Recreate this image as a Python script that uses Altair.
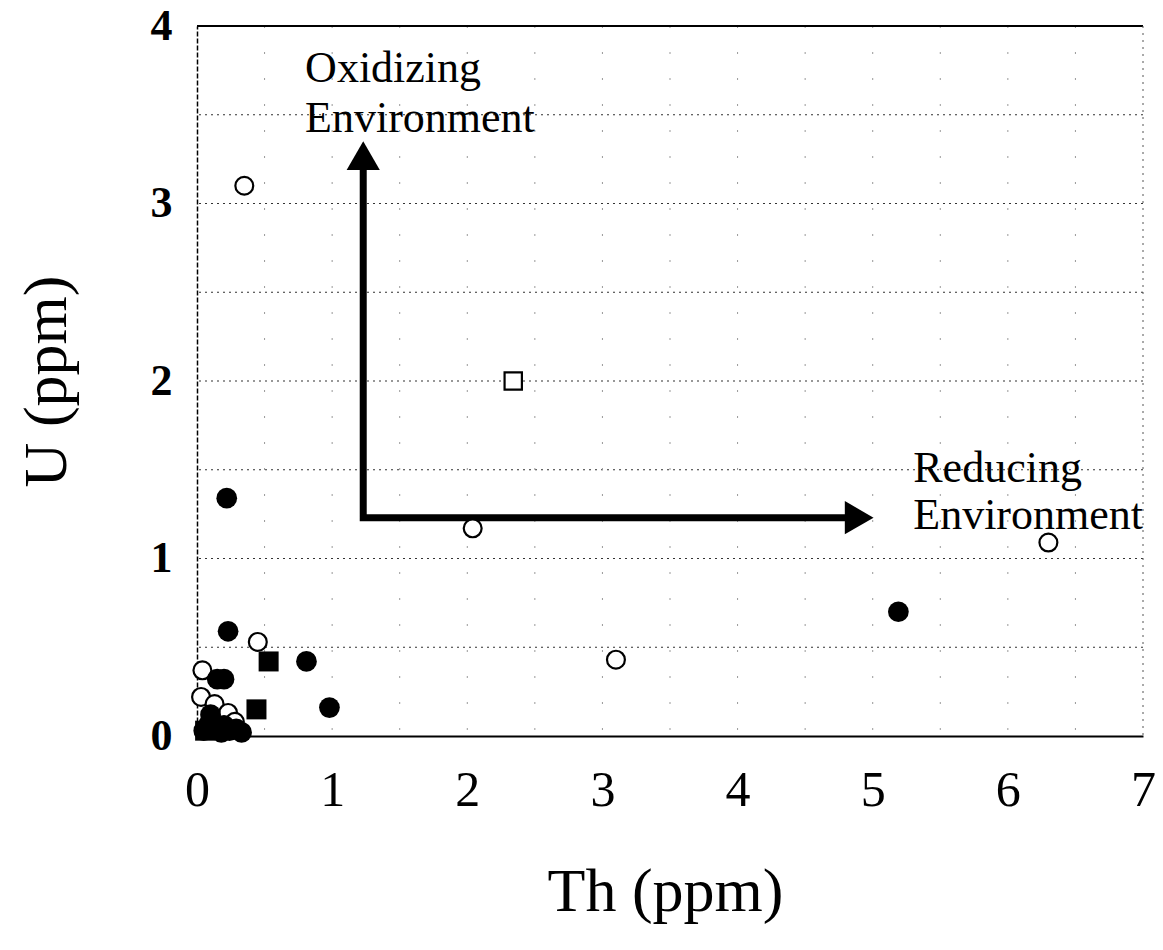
import altair as alt
import pandas as pd

FONT = "Liberation Serif"

# Sample compositions, Th vs U (ppm)
filled_circle_th = [0.22, 0.23, 0.15, 0.20, 0.81, 0.98, 5.19, 0.05, 0.09, 0.13, 0.18, 0.24, 0.29, 0.10, 0.20, 0.33]
filled_circle_u = [1.34, 0.59, 0.32, 0.32, 0.42, 0.16, 0.70, 0.03, 0.07, 0.04, 0.02, 0.03, 0.04, 0.12, 0.06, 0.02]

filled_square_th = [0.53, 0.44, 0.06]
filled_square_u = [0.42, 0.15, 0.03]

open_circle_th = [0.35, 2.04, 6.30, 3.10, 0.45, 0.04, 0.03, 0.13, 0.23, 0.28]
open_circle_u = [3.10, 1.17, 1.09, 0.43, 0.53, 0.37, 0.22, 0.18, 0.13, 0.08]

open_square_th = [2.34]
open_square_u = [2.00]

# Axis ticks and grid positions
x_ticks = [0, 1, 2, 3, 4, 5, 6, 7]
y_ticks = [0, 1, 2, 3, 4]
h_grid = [0.5, 1.0, 1.5, 2.0, 2.5, 3.0, 3.5]
v_grid = [0.5, 1.0, 1.5, 2.0, 2.5, 3.0, 3.5, 4.0, 4.5, 5.0, 5.5, 6.0, 6.5]

# Direction arrows (corner where the two trends start)
arrow_th = [1.23, 1.23, 4.90]
arrow_u = [3.27, 1.23, 1.23]
arrow_order = [0, 1, 2]

labels_text = ["Oxidizing\nEnvironment", "Reducing\nEnvironment"]
labels_th = [0.80, 5.30]
labels_u = [3.685, 1.43]

x_scale = alt.Scale(domain=[0, 7], nice=False, zero=False)
y_scale = alt.Scale(domain=[0, 4], nice=False, zero=False)

x_axis = alt.Axis(
    values=x_ticks, title="Th (ppm)", grid=False, ticks=False, tickSize=0,
    labelFont=FONT, labelFontSize=50, labelColor="black", labelPadding=29,
    labelFlush=False, labelOverlap=False,
    domainColor="black", domainWidth=2,
    titleFont=FONT, titleFontSize=62, titleFontWeight="normal", titleColor="black",
    titleY=174, titleX=468, titleBaseline="alphabetic",
)
y_axis = alt.Axis(
    values=y_ticks, title="U (ppm)", grid=False, ticks=False, tickSize=0,
    labelFont=FONT, labelFontSize=44, labelFontWeight="bold", labelColor="black",
    labelPadding=25, labelFlush=False, labelOverlap=False,
    domainColor="black", domainWidth=1.5, domainDash=[5, 2],
    titleFont=FONT, titleFontSize=62, titleFontWeight="normal", titleColor="black",
    titleX=-119, titleY=355, titleAngle=270, titleBaseline="bottom", titleAlign="center",
)

X = alt.X("Th:Q", scale=x_scale, axis=x_axis)
Y = alt.Y("U:Q", scale=y_scale, axis=y_axis)


def pts(th, u):
    return pd.DataFrame({"Th": th, "U": u})


hgrid = alt.Chart(pd.DataFrame({"U": h_grid})).mark_rule(
    color="#333", strokeWidth=1.2, strokeDash=[2, 4]
).encode(y=Y)

vgrid = alt.Chart(pd.DataFrame({"Th": v_grid})).mark_rule(
    color="#999", strokeWidth=1, strokeDash=[2, 24]
).encode(x=X)

top_border = alt.Chart(pd.DataFrame({"U": [4]})).mark_rule(
    color="black", strokeWidth=2
).encode(y=Y)

right_border = alt.Chart(pd.DataFrame({"Th": [7]})).mark_rule(
    color="#555", strokeWidth=1, strokeDash=[2, 5]
).encode(x=X)


def enc(chart):
    return chart.encode(x=X, y=Y)


open_circles = enc(alt.Chart(pts(open_circle_th, open_circle_u)).mark_point(
    shape="circle", size=320, filled=False, fill="white", fillOpacity=1,
    stroke="black", strokeWidth=2.2, opacity=1
))
open_squares = enc(alt.Chart(pts(open_square_th, open_square_u)).mark_point(
    shape="square", size=300, filled=False, fill="white", fillOpacity=1,
    stroke="black", strokeWidth=2.2, opacity=1
))
filled_circles = enc(alt.Chart(pts(filled_circle_th, filled_circle_u)).mark_point(
    shape="circle", size=430, filled=True, color="black", opacity=1
))
filled_squares = enc(alt.Chart(pts(filled_square_th, filled_square_u)).mark_point(
    shape="square", size=400, filled=True, color="black", opacity=1
))

arrow_df = pd.DataFrame({"Th": arrow_th, "U": arrow_u, "o": arrow_order})
arrow_line = alt.Chart(arrow_df).mark_line(
    color="black", strokeWidth=7, strokeJoin="miter", strokeCap="butt"
).encode(x=X, y=Y, order=alt.Order("o:Q"))
head_up = enc(alt.Chart(pts(arrow_th[:1], arrow_u[:1])).mark_point(
    shape="triangle-up", size=1100, filled=True, color="black", opacity=1
))
head_right = enc(alt.Chart(pts(arrow_th[2:], arrow_u[2:])).mark_point(
    shape="triangle-right", size=1100, filled=True, color="black", opacity=1
))

ox_label = alt.Chart(pd.DataFrame({"Th": labels_th[:1], "U": labels_u[:1], "t": labels_text[:1]})).mark_text(
    align="left", baseline="alphabetic", font=FONT, fontSize=44, lineBreak="\n",
    lineHeight=50, color="black"
).encode(x=X, y=Y, text="t:N")
red_label = alt.Chart(pd.DataFrame({"Th": labels_th[1:], "U": labels_u[1:], "t": labels_text[1:]})).mark_text(
    align="left", baseline="alphabetic", font=FONT, fontSize=44, lineBreak="\n",
    lineHeight=47, color="black"
).encode(x=X, y=Y, text="t:N")

chart = alt.layer(
    hgrid, vgrid, top_border, right_border,
    arrow_line, head_up, head_right,
    open_circles, open_squares, filled_circles, filled_squares,
    ox_label, red_label,
).properties(
    width=946, height=710,
    autosize=alt.AutoSizeParams(type="none"),
    padding={"left": 197, "top": 26, "right": 20, "bottom": 214},
    background="white",
).configure_view(stroke=None)

chart.save("out.html", embed_options={"renderer": "svg", "actions": False})
